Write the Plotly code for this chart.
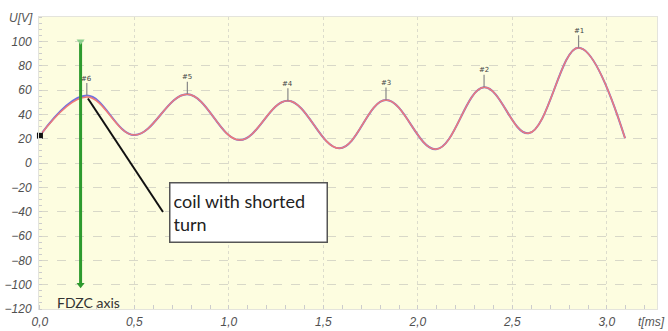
import plotly.graph_objects as go

# Voltage trace: start point, then alternating peaks and troughs (t in ms, U in V)
t_ms = [0.0, 0.248, 0.50, 0.78, 1.056, 1.312, 1.585, 1.831, 2.096, 2.35,
        2.585, 2.85, 3.096]
u_reference = [22.5, 55.4, 23.0, 56.5, 18.9, 51.2, 12.1, 51.8, 11.3, 62.2,
               24.4, 94.8, 20.3]
u_shorted = [22.5, 54.2, 23.0, 56.5, 18.9, 51.2, 12.1, 51.8, 11.3, 62.2,
             24.4, 94.8, 20.3]

# Numbered peaks
peak_names = ["#6", "#5", "#4", "#3", "#2", "#1"]
peak_t = [0.248, 0.78, 1.312, 1.831, 2.35, 2.85]
peak_u = [55.4, 56.5, 51.2, 51.8, 62.2, 94.8]

# FDZC axis marker
fdzc_t = 0.215
fdzc_u = [100, -100]

# Callout
callout_from = (0.254, 53.0)
callout_to = (0.651, -40.3)
callout_text = "coil with shorted<br>turn"

y_ticks = list(range(-120, 101, 20))
x_ticks = [0.0, 0.5, 1.0, 1.5, 2.0, 2.5, 3.0]

fig = go.Figure()

fig.add_trace(go.Scatter(
    x=t_ms, y=u_reference, mode="lines",
    line=dict(color="#7070e0", width=2.0, shape="spline", smoothing=1.1),
    hoverinfo="skip", showlegend=False))
fig.add_trace(go.Scatter(
    x=t_ms, y=u_shorted, mode="lines",
    line=dict(color="#f07a78", width=1.5, shape="spline", smoothing=1.1),
    hoverinfo="skip", showlegend=False))

# start marker
fig.add_trace(go.Scatter(
    x=[t_ms[0]], y=[u_reference[0]], mode="markers",
    marker=dict(symbol="square", size=6, color="#111111"),
    hoverinfo="skip", showlegend=False, cliponaxis=False))

# FDZC axis line with end markers
fig.add_trace(go.Scatter(
    x=[fdzc_t, fdzc_t], y=fdzc_u, mode="lines",
    line=dict(color="#2e9a2e", width=3),
    hoverinfo="skip", showlegend=False))
fig.add_trace(go.Scatter(
    x=[fdzc_t, fdzc_t], y=fdzc_u, mode="markers",
    marker=dict(symbol="triangle-down", size=7, color=["#8fd08f", "#2e9a2e"]),
    hoverinfo="skip", showlegend=False))

# callout pointer
fig.add_trace(go.Scatter(
    x=[callout_from[0], callout_to[0]], y=[callout_from[1], callout_to[1]],
    mode="lines", line=dict(color="#111111", width=2),
    hoverinfo="skip", showlegend=False))

for name, pt, pu in zip(peak_names, peak_t, peak_u):
    fig.add_annotation(
        x=pt, y=pu, text=name, showarrow=True, ax=0, ay=-17,
        arrowhead=0, arrowwidth=1.2, arrowcolor="#888888",
        font=dict(family="DejaVu Sans", size=7, color="#444444"),
        borderpad=0)

fig.add_annotation(
    x=0.683, y=-15.6, xref="x", yref="y", xanchor="left", yanchor="top",
    text=callout_text, showarrow=False, align="left",
    font=dict(family="Lato", size=18, color="#222222"),
    bgcolor="#ffffff", bordercolor="#555555", borderwidth=1.5,
    width=150, height=52, borderpad=3, valign="middle")

fig.add_annotation(
    x=0.079, y=-115, xref="x", yref="y", xanchor="left", yanchor="middle",
    text="FDZC axis", showarrow=False,
    font=dict(family="Lato", size=14, color="#333333"))

fig.add_annotation(
    x=-0.005, y=1.0, xref="x", yref="paper", xanchor="right", yanchor="bottom",
    text="<i>U[V]</i>", showarrow=False, xshift=-4, yshift=-10,
    font=dict(family="Liberation Sans", size=12, color="#555555"))
fig.add_annotation(
    x=1.0, y=0.0, xref="paper", yref="paper", xanchor="right", yanchor="top",
    text="<i>t[ms]</i>", showarrow=False, xshift=10, yshift=-4,
    font=dict(family="Liberation Sans", size=12, color="#555555"))

fig.update_layout(
    width=668, height=331,
    margin=dict(l=39, r=11, t=17, b=22),
    paper_bgcolor="#ffffff", plot_bgcolor="#fdfde0",
    separators=",.",
    font=dict(family="Liberation Sans", size=12, color="#555555"),
)
fig.update_xaxes(
    range=[-0.005, 3.265], tickvals=x_ticks, tickformat=".1f", automargin=False,
    tickfont=dict(family="Liberation Sans", size=12, color="#505050", style="italic"),
    showgrid=True, gridcolor="#dcdccc", griddash="dot", gridwidth=1,
    zeroline=False, showline=True, linecolor="#e4e4dc", mirror=True,
    ticks="", ticklabelstandoff=2,
    minor=dict(dtick=0.1, ticks="inside", ticklen=4, tickcolor="#cccccc", showgrid=False))
fig.update_yaxes(
    range=[-120, 120], tickvals=y_ticks, automargin=False,
    tickfont=dict(family="Liberation Sans", size=12, color="#505050", style="italic"),
    showgrid=True, gridcolor="#d8d8c8", griddash="dash", gridwidth=1,
    zeroline=False, showline=True, linecolor="#e4e4dc", mirror=True,
    ticks="", ticklabelstandoff=4,
    minor=dict(dtick=5, ticks="inside", ticklen=3, tickcolor="#cccccc", showgrid=False))

fig.write_html("out.html")
